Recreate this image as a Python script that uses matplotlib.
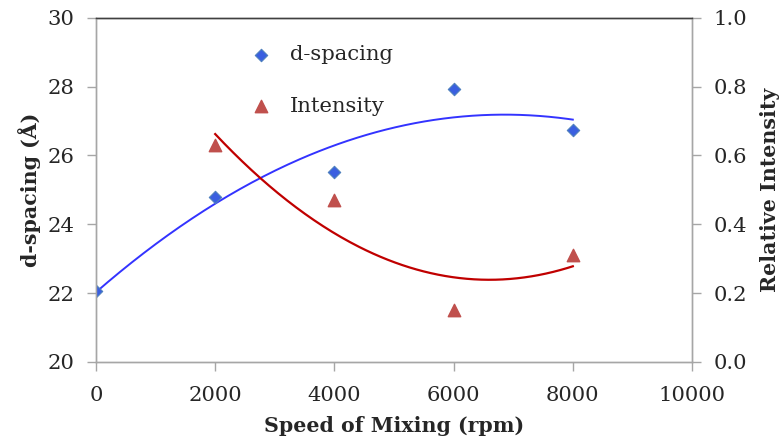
import numpy as np
import matplotlib.pyplot as plt

# velocita di mescolamento (rpm)
speed_d = [0, 2000, 4000, 6000, 8000]
d_spacing = [22.06, 24.79, 25.52, 27.94, 26.75]

speed_i = [2000, 4000, 6000, 8000]
intensity = [0.63, 0.47, 0.15, 0.31]

plt.rcParams['font.family'] = ['DejaVu Serif']
txt = '#262626'
gray = '#a6a6a6'

fig = plt.figure(figsize=(7.83, 4.42), dpi=100)
ax = fig.add_axes([0.1226, 0.181, 0.7612, 0.779])
ax2 = ax.twinx()

# trendline polinomiali di ordine 2 (come in Excel)
cd = np.polyfit(speed_d, d_spacing, 2)
xd = np.linspace(min(speed_d), max(speed_d), 200)
ax.plot(xd, np.polyval(cd, xd), color='#3333ff', lw=1.4, zorder=2)

ci = np.polyfit(speed_i, intensity, 2)
xi = np.linspace(min(speed_i), max(speed_i), 200)
ax2.plot(xi, np.polyval(ci, xi), color='#c00000', lw=1.6, zorder=2)

h1 = ax.scatter(speed_d, d_spacing, marker='D', s=40, color='#3a5fe0',
                edgecolors='#4f81bd', linewidths=0.8, zorder=3, label='d-spacing')
h2 = ax2.scatter(speed_i, intensity, marker='^', s=80, color='#c0504d',
                 zorder=3, label='Intensity')

ax.set_xlim(0, 10000)
ax.set_ylim(20, 30)
ax2.set_ylim(0, 1.0)
ax.set_xticks(np.arange(0, 10001, 2000))
ax.set_yticks(np.arange(20, 31, 2))
ax2.set_yticks(np.arange(0, 1.01, 0.2))
ax2.yaxis.set_major_formatter(plt.FormatStrFormatter('%.1f'))

for a in (ax, ax2):
    for s in a.spines.values():
        s.set_color(gray)
        s.set_linewidth(1.0)
    a.spines['top'].set_color('#404040')
    a.tick_params(colors=gray, labelcolor=txt, labelsize=15.2, length=6.5, width=1.0, pad=9)
ax.tick_params(axis='x', pad=11)

ax.set_xlabel('Speed of Mixing (rpm)', fontsize=14.8, fontweight='bold', color=txt, labelpad=8)
ax.set_ylabel('d-spacing (Å)', fontsize=14.8, fontweight='bold', color=txt, labelpad=5)
ax2.set_ylabel('Relative Intensity', fontsize=14.8, fontweight='bold', color=txt, labelpad=9)

ax.legend([h1, h2], ['d-spacing', 'Intensity'], loc='upper left',
          bbox_to_anchor=(0.21, 0.975), frameon=False, fontsize=15.2,
          labelspacing=1.55, handletextpad=0.35, labelcolor=txt)

fig.savefig('out.png', dpi=100)
